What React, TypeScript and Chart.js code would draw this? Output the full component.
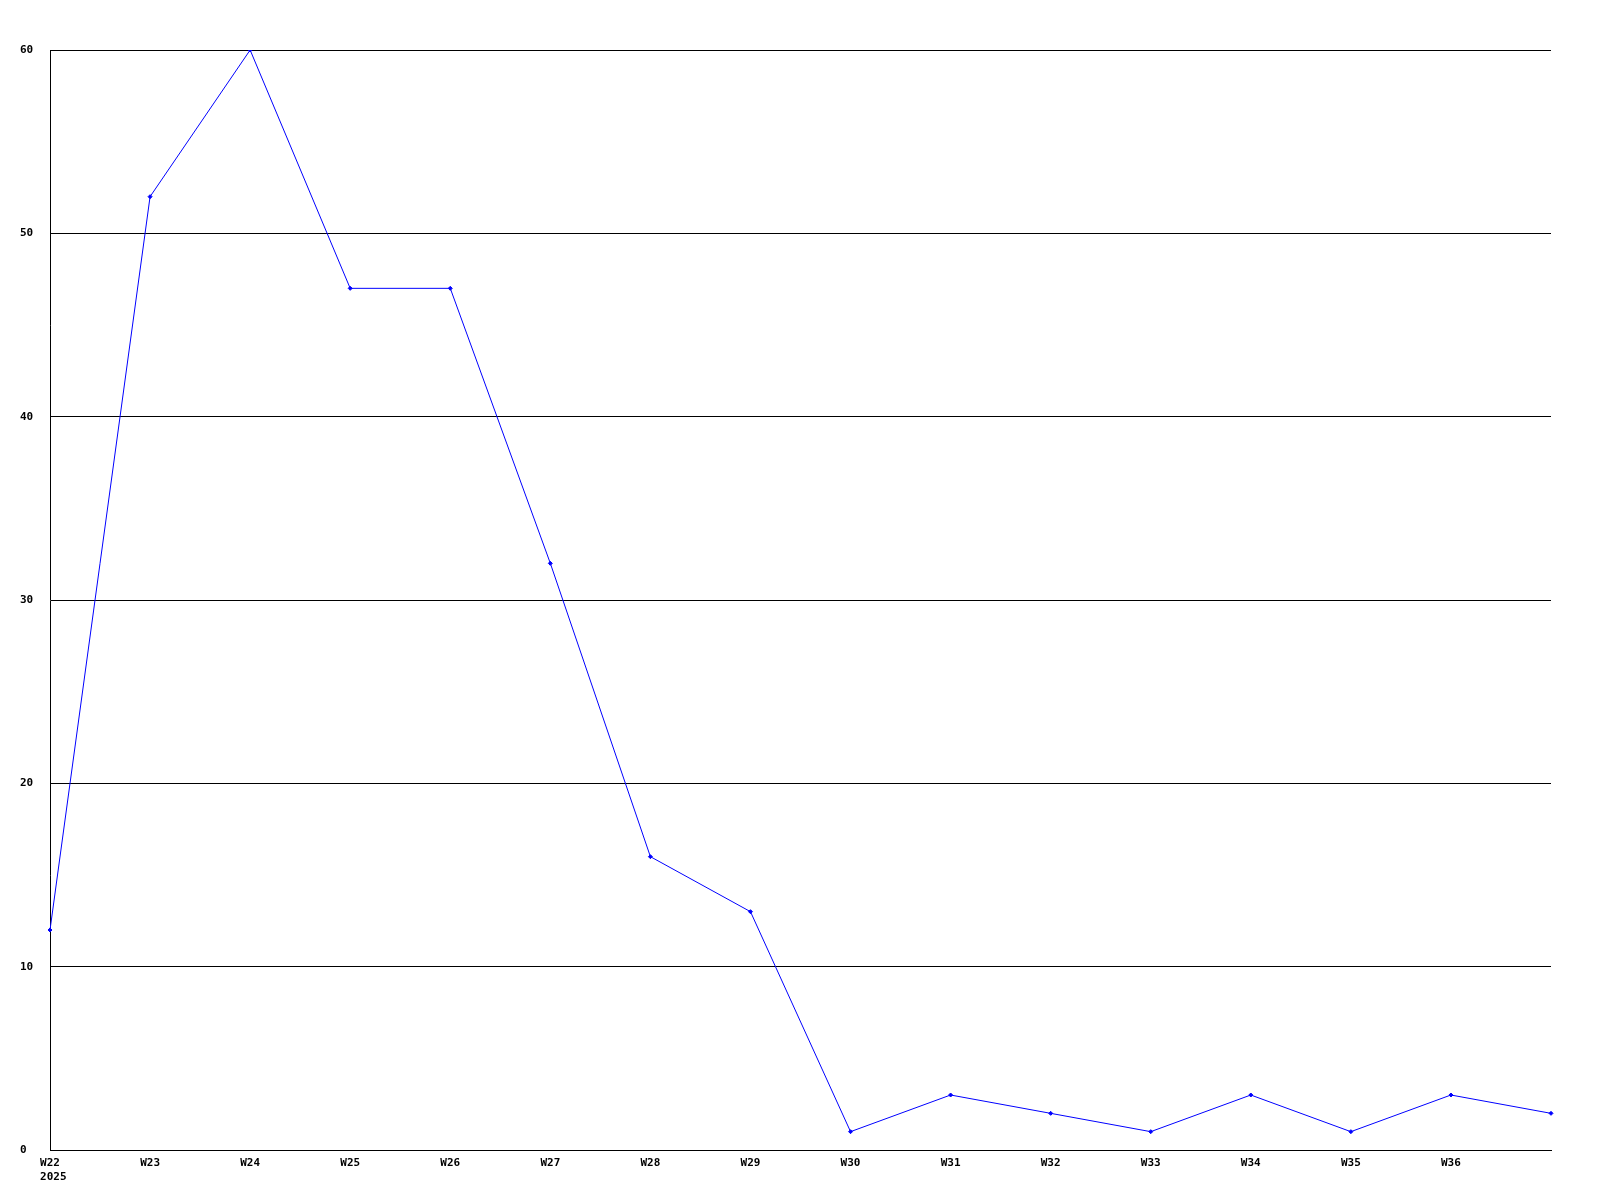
import React, { useEffect, useRef } from "react";
import { Chart, registerables } from "chart.js";

Chart.register(...registerables);

const weeks: (string | string[])[] = [
  ["W22", " 2025"], "W23", "W24", "W25", "W26", "W27", "W28", "W29",
  "W30", "W31", "W32", "W33", "W34", "W35", "W36", "",
];
const values: number[] = [12, 52, 60, 47, 47, 32, 16, 13, 1, 3, 2, 1, 3, 1, 3, 2];
const yMin = 0;
const yMax = 60;
const yStep = 10;

export default function App() {
  const ref = useRef<HTMLCanvasElement | null>(null);
  useEffect(() => {
    if (!ref.current) return;
    const font = { family: "'DejaVu Sans Mono', monospace", size: 11, weight: "bold" as const };
    const chart = new Chart(ref.current, {
      type: "line",
      data: {
        labels: weeks,
        datasets: [
          {
            data: values,
            borderColor: "#0000ff",
            backgroundColor: "#0000ff",
            borderWidth: 1,
            pointStyle: "rectRot",
            pointRadius: 2,
            pointBorderWidth: 1,
            tension: 0,
            fill: false,
          },
        ],
      },
      options: {
        animation: false,
        responsive: false,
        devicePixelRatio: 1,
        layout: { padding: { left: 20, top: 50, right: 49, bottom: 0 } },
        plugins: { legend: { display: false }, tooltip: { enabled: false } },
        scales: {
          x: {
            offset: false,
            grid: { display: false, drawTicks: false },
            border: { display: true, color: "#000", width: 1 },
            ticks: {
              color: "#000",
              font,
              padding: 7,
              maxRotation: 0,
              autoSkip: false,
            },
            afterFit: (s: any) => {
              s.height = 50;
            },
          },
          y: {
            min: yMin,
            max: yMax,
            grid: { color: "#000", lineWidth: 1, drawTicks: false },
            border: { display: true, color: "#000", width: 1 },
            ticks: {
              stepSize: yStep,
              color: "#000",
              font,
              crossAlign: "far",
              padding: 0,
            },
            afterFit: (s: any) => {
              s.width = 30;
            },
          },
        },
      },
    });
    return () => chart.destroy();
  }, []);
  return (
    <canvas
      ref={ref}
      width={1600}
      height={1200}
      style={{ position: "absolute", left: 0, top: 0, width: 1600, height: 1200 }}
    />
  );
}
